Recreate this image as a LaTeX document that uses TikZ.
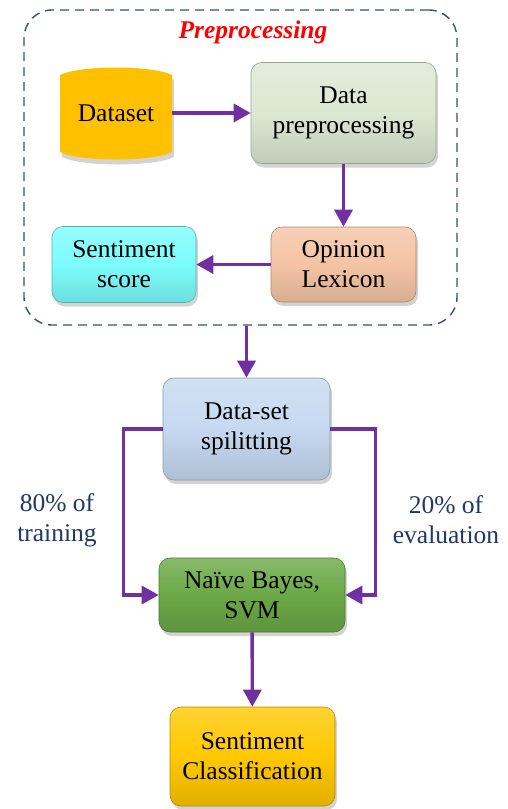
\documentclass[tikz,border=0pt]{standalone}
\usepackage{fontspec}
\setmainfont{Liberation Serif}
\usetikzlibrary{arrows.meta, positioning, calc, shadows}
\definecolor{arrpurple}{HTML}{7030A0}
\definecolor{navy}{HTML}{1F3864}
\definecolor{dashblue}{HTML}{34507F}
\tikzset{
  txt/.style={font=\fontsize{25.5}{30}\selectfont, align=center, inner sep=0pt},
  blk/.style={txt, rounded corners=11pt, draw=#1!70!black, line width=0.6pt,
    top color=#1!80!white, bottom color=#1!88!black, middle color=#1,
    drop shadow={shadow xshift=2pt, shadow yshift=-4pt, opacity=0.35}},
  tra/.style={-{Triangle[length=17pt, width=18pt]}, draw=arrpurple, line width=3.4pt},
  lab/.style={font=\fontsize{25.5}{30}\selectfont, align=center, text=navy}
}
\definecolor{dsorange}{HTML}{FFC000}
\definecolor{dpgreen}{HTML}{DCE8D2}
\definecolor{olpeach}{HTML}{F4C4A4}
\definecolor{sscyan}{HTML}{7CFCFC}
\definecolor{spblue}{HTML}{C6D9F0}
\definecolor{nbgreen}{HTML}{6BA846}
\definecolor{scgold}{HTML}{FFC800}

\begin{document}
\begin{tikzpicture}[x=1pt, y=1pt]
		\useasboundingbox (0,0) rectangle (508,-809);
		% preprocessing frame
		\node[draw=dashblue, dashed, dash pattern=on 9pt off 6pt, line width=1.4pt, rounded corners=28pt,
			minimum width=433pt, minimum height=315pt] (pre) at (240.5,-167.5) {};
		\node[font=\fontsize{25.5}{30}\selectfont\bfseries\itshape, text=red] (ttl) at (253,-32) {Preprocessing};
		% dataset drum
		\fill[dsorange, drop shadow={shadow xshift=2pt, shadow yshift=-5pt, opacity=0.35}]
			(60,-75) .. controls (80,-65) and (152,-65) .. (172,-75) -- (172,-152)
			.. controls (152,-162) and (80,-162) .. (60,-152) -- cycle;
		\node[txt, minimum width=112pt, minimum height=92pt] (ds) at (116,-113) {Dataset};
		\node[blk=dpgreen, minimum width=185pt, minimum height=101pt] (dp) at (343.5,-113) {Data\\preprocessing};
		\node[blk=olpeach, minimum width=145pt, minimum height=75pt] (ol) at (343.5,-264.5) {Opinion\\Lexicon};
		\node[blk=sscyan, minimum width=144pt, minimum height=76pt] (ss) at (124,-264.5) {Sentiment\\score};
		\node[blk=spblue, minimum width=167pt, minimum height=102pt] (spl) at (246.5,-429) {Data-set\\spilitting};
		\node[blk=nbgreen, minimum width=186pt, minimum height=74pt] (nb) at (252,-595) {Naïve Bayes,\\SVM};
		\node[blk=scgold, minimum width=165pt, minimum height=99pt] (sc) at (252.5,-756.5) {Sentiment\\Classification};
		\node[lab] (tr) at (57,-520) {80\% of\\training};
		\node[lab] (ev) at (446,-520) {20\% of\\evaluation};
		\draw[tra] (ds) -- (dp);
		\draw[tra] (dp) -- (ol);
		\draw[tra] (ol) -- (ss);
		\draw[tra] (pre.south -| spl.north) -- (spl);
		\draw[tra] (spl.west) -- ++(-39,0) |- (nb.west);
		\draw[tra] (spl.east) -- ++(45,0) |- (nb.east);
		\draw[tra] (nb) -- (sc);
	\end{tikzpicture}
\end{document}
